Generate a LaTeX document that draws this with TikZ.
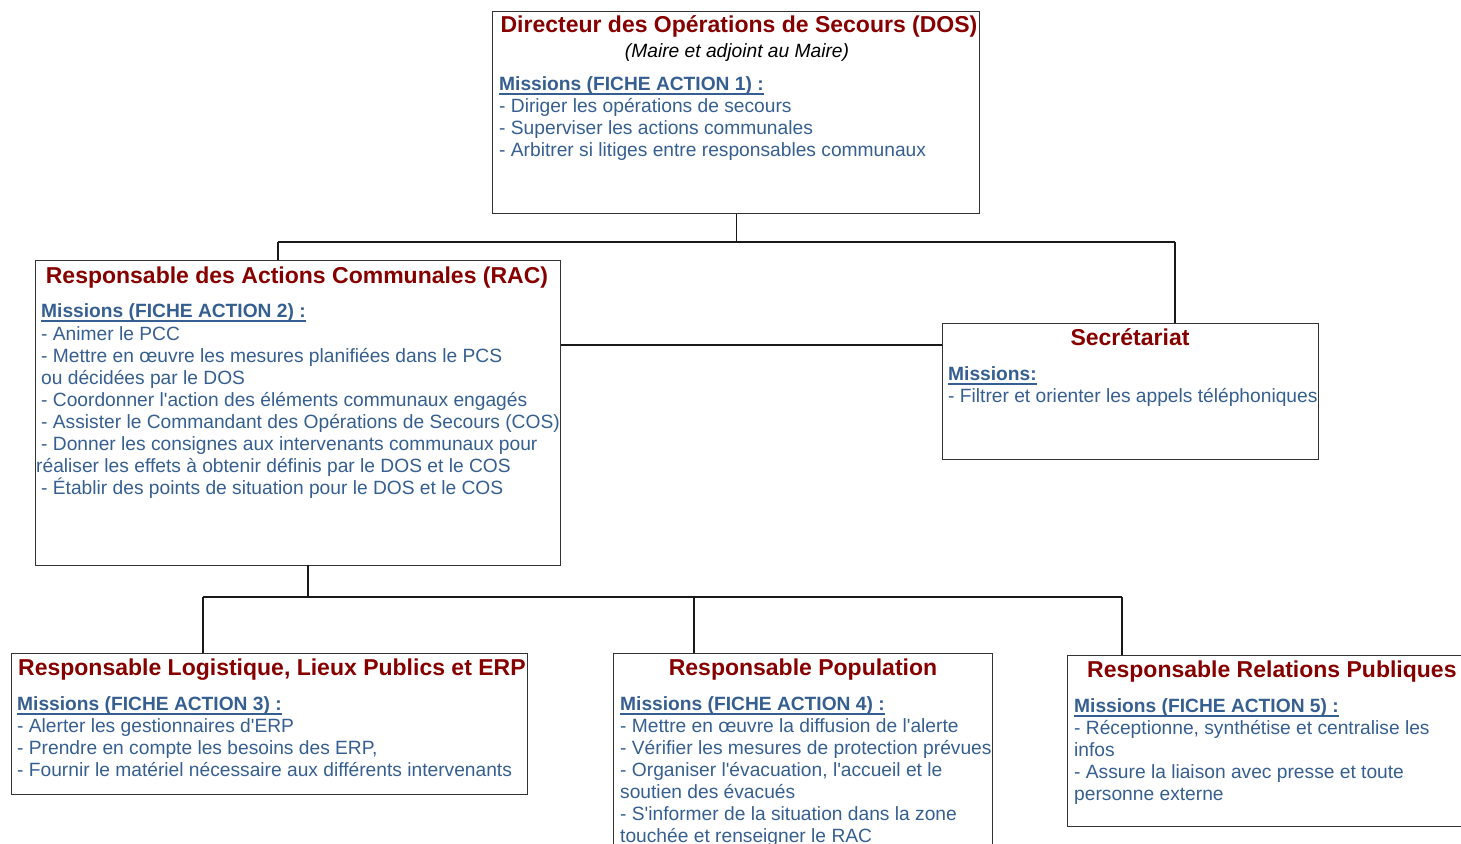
\documentclass[tikz,border=0pt]{standalone}
\usepackage{fontspec}
\setmainfont{Liberation Sans}[Ligatures=TeXOff]
\definecolor{ttl}{RGB}{135,0,0}
\definecolor{bl}{RGB}{54,95,145}
\tikzset{
  box/.style={draw=black!80, line width=1.2pt, anchor=north west, inner sep=0pt},
  ln/.style={draw=black!90, line width=1.2pt},
  tx/.style={inner sep=0pt, anchor=base west, text=bl, font=\fontsize{19.2}{22}\selectfont},
  mis/.style={inner sep=0pt, anchor=base west, text=bl, font=\fontsize{19.2}{22}\selectfont\bfseries},
  ulin/.style={draw=bl, line width=1.7pt},
  ttlc/.style={inner sep=0pt, anchor=base, text=ttl, font=\fontsize{23}{26}\selectfont\bfseries},
  ttlw/.style={inner sep=0pt, anchor=base west, text=ttl, font=\fontsize{23}{26}\selectfont\bfseries},
}
\newcommand\ulnode[1]{\draw[ulin] ([yshift=-3.8pt]#1.base west) -- ([yshift=-3.8pt]#1.base east);}
\newcommand\ap{{\char39}}
\begin{document}
\begin{tikzpicture}[x=1pt,y=-1pt]
\useasboundingbox (0,0) rectangle (1461,843);
\clip (0,0) rectangle (1461,843);
\fill[white] (0,0) rectangle (1461,843);
% boxes
\node[box, minimum width=487pt, minimum height=202pt] (dos) at (492,11) {};
\node[box, minimum width=525pt, minimum height=305pt] (rac) at (35,260) {};
\node[box, minimum width=376pt, minimum height=136pt] (sec) at (942,323) {};
\node[box, minimum width=516pt, minimum height=141pt] (log) at (11,653) {};
\node[box, minimum width=379pt, minimum height=260pt] (pop) at (613,653) {};
\node[box, minimum width=460pt, minimum height=171pt] (rp) at (1067,655) {};
% connectors
\coordinate (t1) at (278,242);
\coordinate (t2) at (1175,242);
\coordinate (s1) at (942,345);
\coordinate (rb) at (308,565);
\coordinate (b1) at (203,597);
\coordinate (b2) at (1122,597);
\coordinate (pb) at (694,597);
\draw[ln] (dos.south) -- (dos.south |- t1);
\draw[ln] (t1) -- (t2);
\draw[ln] (t1) -- (t1 |- rac.north);
\draw[ln] (t2) -- (t2 |- sec.north);
\draw[ln] (rac.east |- s1) -- (sec.west |- s1);
\draw[ln] (rb) -- (rb |- b1);
\draw[ln] (b1) -- (b2);
\draw[ln] (b1) -- (b1 |- log.north);
\draw[ln] (pb) -- (pb |- pop.north);
\draw[ln] (b2) -- (b2 |- rp.north);
% DOS
\node[ttlc] (dT) at (739,33) {Directeur des Opérations de Secours (DOS)};
\node[inner sep=0pt, anchor=base, font=\fontsize{19.2}{22}\selectfont\itshape] (dS) at (737,57) {(Maire et adjoint au Maire)};
\node[mis] (dM) at (499,90) {Missions (FICHE ACTION 1) :};
\ulnode{dM}
\node[tx] (d1) at (499,112) {- Diriger les opérations de secours};
\node[tx] (d2) at (499,134) {- Superviser les actions communales};
\node[tx] (d3) at (499,156) {- Arbitrer si litiges entre responsables communaux};
% RAC
\node[ttlc] (rT) at (297,283) {Responsable des Actions Communales (RAC)};
\node[mis] (rM) at (41,317) {Missions (FICHE ACTION 2) :};
\ulnode{rM}
\node[tx] (r1) at (41,340) {- Animer le PCC};
\node[tx] (r2) at (41,362) {- Mettre en œuvre les mesures planifiées dans le PCS};
\node[tx] (r3) at (41,384) {ou décidées par le DOS};
\node[tx] (r4) at (41,406) {- Coordonner l\ap action des éléments communaux engagés};
\node[tx] (r5) at (41,428) {- Assister le Commandant des Opérations de Secours (COS)};
\node[tx] (r6) at (41,450) {- Donner les consignes aux intervenants communaux pour};
\node[tx] (r7) at (36,472) {réaliser les effets à obtenir définis par le DOS et le COS};
\node[tx] (r8) at (41,494) {- Établir des points de situation pour le DOS et le COS};
% Secretariat
\node[ttlc] (sT) at (1130,345) {Secrétariat};
\node[mis] (sM) at (948,380) {Missions:};
\ulnode{sM}
\node[tx] (s1t) at (948,402) {- Filtrer et orienter les appels téléphoniques};
% Logistique
\node[ttlw] (lT) at (18,675) {Responsable Logistique, Lieux Publics et ERP};
\node[mis] (lM) at (17,710) {Missions (FICHE ACTION 3) :};
\ulnode{lM}
\node[tx] (l1) at (17,732) {- Alerter les gestionnaires d\ap ERP};
\node[tx] (l2) at (17,754) {- Prendre en compte les besoins des ERP,};
\node[tx] (l3) at (17,776) {- Fournir le matériel nécessaire aux différents intervenants};
% Population
\node[ttlc] (pT) at (803,675) {Responsable Population};
\node[mis] (pM) at (620,710) {Missions (FICHE ACTION 4) :};
\ulnode{pM}
\node[tx] (p1) at (620,732) {- Mettre en œuvre la diffusion de l\ap alerte};
\node[tx] (p2) at (620,754) {- Vérifier les mesures de protection prévues};
\node[tx] (p3) at (620,776) {- Organiser l\ap évacuation, l\ap accueil et le};
\node[tx] (p4) at (620,798) {soutien des évacués};
\node[tx] (p5) at (620,820) {- S\ap informer de la situation dans la zone};
\node[tx] (p6) at (620,842) {touchée et renseigner le RAC};
% Relations publiques
\node[ttlw] (qT) at (1087,677) {Responsable Relations Publiques};
\node[mis] (qM) at (1074,712) {Missions (FICHE ACTION 5) :};
\ulnode{qM}
\node[tx] (q1) at (1074,734) {- Réceptionne, synthétise et centralise les};
\node[tx] (q2) at (1074,756) {infos};
\node[tx] (q3) at (1074,778) {- Assure la liaison avec presse et toute};
\node[tx] (q4) at (1074,800) {personne externe};
\end{tikzpicture}
\end{document}
